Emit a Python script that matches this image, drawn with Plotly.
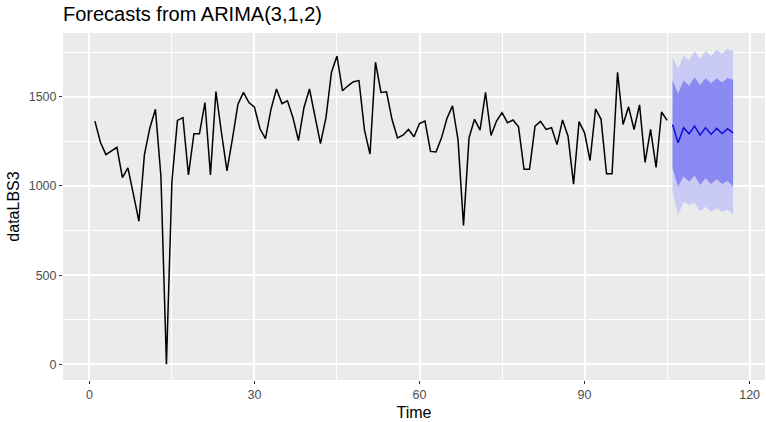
import plotly.graph_objects as go

t_obs = list(range(1, 106))
obs = [1364, 1245, 1176, 1198, 1217, 1047, 1102, 953, 802, 1176,
       1327, 1430, 1053, 0, 1025, 1368, 1383, 1062, 1293, 1293,
       1468, 1062, 1530, 1300, 1085, 1265, 1459, 1525, 1468, 1442,
       1321, 1266, 1430, 1544, 1462, 1478, 1383, 1255, 1440, 1544,
       1393, 1238, 1383, 1638, 1729, 1534, 1562, 1585, 1591, 1313,
       1179, 1694, 1525, 1528, 1374, 1270, 1285, 1317, 1276, 1350,
       1364, 1194, 1191, 1270, 1380, 1449, 1260, 779, 1270, 1374,
       1313, 1525, 1283, 1364, 1411, 1355, 1370, 1332, 1094, 1094,
       1336, 1362, 1317, 1327, 1232, 1370, 1279, 1010, 1361, 1298,
       1143, 1432, 1374, 1068, 1068, 1638, 1345, 1444, 1317, 1455,
       1132, 1317, 1104, 1415, 1368]

t_fc = list(range(106, 118))
fc_mean = [1345, 1242, 1327, 1293, 1336, 1285, 1327, 1289, 1323, 1294, 1321, 1298]
hi80 = [1591, 1519, 1591, 1562, 1610, 1566, 1604, 1576, 1604, 1581, 1606, 1596]
lo80 = [1100, 996, 1053, 1025, 1057, 1006, 1043, 1011, 1038, 1011, 1028, 996]
hi95 = [1723, 1657, 1732, 1704, 1755, 1713, 1755, 1729, 1764, 1742, 1770, 1755]
lo95 = [968, 836, 911, 893, 906, 859, 883, 855, 874, 855, 868, 840]

x_ticks = [0, 30, 60, 90, 120]
y_ticks = [0, 500, 1000, 1500]

fig = go.Figure()
fig.add_trace(go.Scatter(x=t_fc, y=hi95, mode="lines", line=dict(width=0), showlegend=False, hoverinfo="skip"))
fig.add_trace(go.Scatter(x=t_fc, y=lo95, mode="lines", line=dict(width=0), fill="tonexty",
                         fillcolor="#CACAF6", showlegend=False, hoverinfo="skip"))
fig.add_trace(go.Scatter(x=t_fc, y=hi80, mode="lines", line=dict(width=0), showlegend=False, hoverinfo="skip"))
fig.add_trace(go.Scatter(x=t_fc, y=lo80, mode="lines", line=dict(width=0), fill="tonexty",
                         fillcolor="#8A8AF2", showlegend=False, hoverinfo="skip"))
fig.add_trace(go.Scatter(x=t_obs, y=obs, mode="lines", line=dict(color="black", width=1.5), showlegend=False))
fig.add_trace(go.Scatter(x=t_fc, y=fc_mean, mode="lines", line=dict(color="#1010D8", width=1.5), showlegend=False))

fig.update_layout(
    width=766, height=422,
    margin=dict(l=63, r=1, t=33, b=42),
    paper_bgcolor="white",
    plot_bgcolor="#EBEBEB",
    font=dict(family="Liberation Sans, Arial, sans-serif", color="#4D4D4D"),
    title=dict(text="Forecasts from ARIMA(3,1,2)", x=0, xref="paper", xanchor="left",
               y=1 - 14 / 422, yref="container", yanchor="middle",
               font=dict(size=20, color="black")),
)
fig.update_xaxes(
    range=[-4.8, 122.8], tickvals=x_ticks, ticktext=[str(v) for v in x_ticks],
    showgrid=True, gridcolor="white", gridwidth=1.5, zeroline=False,
    ticks="outside", ticklen=3, tickcolor="#333333", tickfont=dict(size=12.5, color="#4D4D4D"),
    minor=dict(tickvals=[15, 45, 75, 105], showgrid=True, gridcolor="white", gridwidth=0.8, ticks=""),
    title=dict(text="Time", font=dict(size=16, color="black"), standoff=5),
    showline=False,
)
fig.update_yaxes(
    range=[-88, 1858], tickvals=y_ticks, ticktext=[str(v) for v in y_ticks],
    showgrid=True, gridcolor="white", gridwidth=1.5, zeroline=False,
    ticks="outside", ticklen=3, tickcolor="#333333", tickfont=dict(size=12.5, color="#4D4D4D"),
    minor=dict(tickvals=[250, 750, 1250, 1750], showgrid=True, gridcolor="white", gridwidth=0.8, ticks=""),
    title=dict(text="dataLBS3", font=dict(size=16, color="black"), standoff=5),
    showline=False,
)

fig.write_html("out.html")
